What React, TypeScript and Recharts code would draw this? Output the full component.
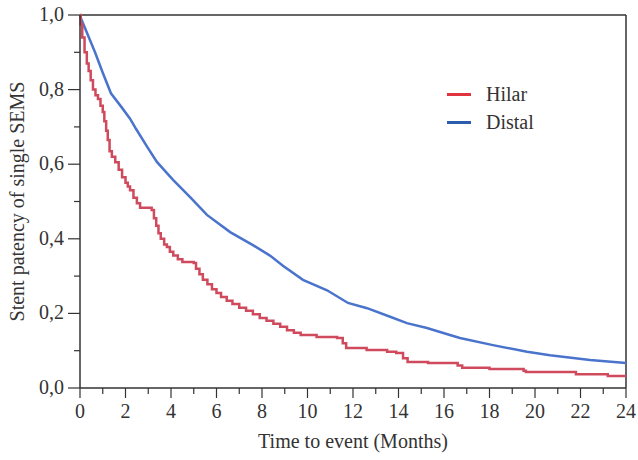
import { Line, LineChart, ReferenceLine, XAxis, YAxis } from 'recharts'

// Kaplan-Meier style curves (months, patency)
const hilarTime = [
  0, 0.03, 0.1, 0.2, 0.3, 0.38, 0.47, 0.57, 0.68, 0.79, 0.9, 1.0, 1.07, 1.15,
  1.22, 1.3, 1.4, 1.55, 1.7, 1.85, 2.0, 2.1, 2.2, 2.35, 2.5, 2.64, 3.15, 3.25,
  3.35, 3.45, 3.55, 3.7, 3.82, 3.95, 4.1, 4.3, 4.5, 5.0, 5.1, 5.25, 5.4, 5.6,
  5.8, 6.0, 6.2, 6.45, 6.7, 7.0, 7.3, 7.6, 7.9, 8.2, 8.5, 8.8, 9.1, 9.4, 9.7,
  10.4, 11.3, 11.55, 11.7, 12.6, 13.5, 13.9, 14.2, 14.4, 15.3, 16.6, 16.8,
  18.0, 19.5, 19.6, 21.8, 23.2, 24,
]
const hilarSurv = [
  1.0, 0.975, 0.94, 0.9, 0.87, 0.85, 0.825, 0.8, 0.785, 0.775, 0.757, 0.74,
  0.715, 0.69, 0.665, 0.635, 0.62, 0.605, 0.585, 0.565, 0.55, 0.54, 0.53, 0.51,
  0.495, 0.483, 0.477, 0.455, 0.435, 0.415, 0.4, 0.385, 0.378, 0.365, 0.355,
  0.345, 0.338, 0.335, 0.32, 0.305, 0.29, 0.278, 0.265, 0.255, 0.244, 0.234,
  0.225, 0.215, 0.207, 0.198, 0.188, 0.18, 0.172, 0.164, 0.155, 0.148, 0.142,
  0.137, 0.134, 0.12, 0.107, 0.102, 0.097, 0.094, 0.08, 0.07, 0.067, 0.06,
  0.054, 0.051, 0.046, 0.043, 0.037, 0.032, 0.032,
]

const distalTime = [
  0, 0.05, 0.66, 1.0, 1.36, 1.8, 2.2, 2.46, 2.94, 3.38, 4.09, 4.84, 5.58, 6.6,
  7.6, 8.35, 8.92, 9.8, 10.86, 11.78, 12.62, 13.63, 14.37, 15.25, 16.26, 16.7,
  18.15, 19.65, 20.66, 22.42, 24,
]
const distalSurv = [
  1.0, 0.99, 0.9, 0.845, 0.79, 0.755, 0.722, 0.695, 0.648, 0.606, 0.558, 0.512,
  0.464, 0.418, 0.383, 0.355, 0.328, 0.29, 0.262, 0.228, 0.214, 0.191, 0.174,
  0.161, 0.142, 0.134, 0.115, 0.097, 0.088, 0.075, 0.067,
]

const xTicks = Array.from({ length: 25 }, (_, i) => i)
const yTicks = [0, 0.1, 0.2, 0.3, 0.4, 0.5, 0.6, 0.7, 0.8, 0.9, 1.0]

const legendItems = [
  { name: 'Hilar', color: '#e0353f' },
  { name: 'Distal', color: '#2b5cad' },
]

const hilarData = hilarTime.map((t, i) => ({ t, s: hilarSurv[i] }))
const distalData = distalTime.map((t, i) => ({ t, s: distalSurv[i] }))

const FONT = '"Liberation Serif", "DejaVu Serif", serif'
const AXIS = '#333'
const RED = '#cf4a5c'
const BLUE = '#4a74cc'

const XTick = (props: any) => {
  const { x, y, payload } = props
  const major = payload.value % 2 === 0
  return (
    <g>
      <line x1={x} x2={x} y1={y} y2={y + (major ? 10 : 6)} stroke={AXIS} strokeWidth={1.2} />
      {major && (
        <text x={x} y={y + 30} textAnchor="middle" fontSize={20} fill="#333" fontFamily={FONT}>
          {payload.value}
        </text>
      )}
    </g>
  )
}

const YTick = (props: any) => {
  const { x, y, payload, index } = props
  const major = index % 2 === 0
  return (
    <g>
      <line x1={x - (major ? 12 : 6)} x2={x} y1={y} y2={y} stroke={AXIS} strokeWidth={1.2} />
      {major && (
        <text x={x - 16} y={y + 6} textAnchor="end" fontSize={20} fill="#333" fontFamily={FONT}>
          {payload.value.toFixed(1).replace('.', ',')}
        </text>
      )}
    </g>
  )
}

export default function App() {
  return (
    <div style={{ position: 'absolute', left: 0, top: 0, width: 638, height: 460, background: '#fff' }}>
      <LineChart width={638} height={460} margin={{ top: 15, right: 12, bottom: 0, left: 0 }}>
        <XAxis
          dataKey="t"
          type="number"
          domain={[0, 24]}
          ticks={xTicks}
          interval={0}
          tickSize={0}
          tickMargin={0}
          tickLine={false}
          tick={XTick}
          height={72}
          stroke={AXIS}
          strokeWidth={1.5}
          allowDuplicatedCategory={false}
          label={{
            value: 'Time to event (Months)',
            position: 'insideBottom',
            offset: 12,
            style: { fontFamily: FONT, fontSize: 20, fill: '#333' },
          }}
        />
        <YAxis
          type="number"
          domain={[0, 1]}
          ticks={yTicks}
          interval={0}
          tickSize={0}
          tickMargin={0}
          tickLine={false}
          tick={YTick}
          width={80}
          stroke={AXIS}
          strokeWidth={1.5}
          label={{
            value: 'Stent patency of single SEMS',
            angle: -90,
            position: 'center',
            dx: -23,
            style: { fontFamily: FONT, fontSize: 20, fill: '#333', textAnchor: 'middle' },
          }}
        />
        <ReferenceLine y={1} stroke={AXIS} strokeWidth={1.5} />
        <ReferenceLine x={24} stroke={AXIS} strokeWidth={1.5} />
        <Line
          data={distalData}
          dataKey="s"
          name="Distal"
          type="linear"
          stroke={BLUE}
          strokeWidth={2.5}
          dot={false}
          isAnimationActive={false}
        />
        <Line
          data={hilarData}
          dataKey="s"
          name="Hilar"
          type="stepAfter"
          stroke={RED}
          strokeWidth={2.5}
          dot={false}
          isAnimationActive={false}
        />
      </LineChart>
      <div
        style={{
          position: 'absolute',
          left: 447,
          top: 80,
          fontFamily: FONT,
          fontSize: 20,
          color: '#333',
          lineHeight: '28px',
        }}
      >
        {legendItems.map((it) => (
          <div key={it.name} style={{ display: 'flex', alignItems: 'center' }}>
            <span
              style={{ display: 'inline-block', width: 24, height: 3, background: it.color, marginRight: 15 }}
            />
            {it.name}
          </div>
        ))}
      </div>
    </div>
  )
}
